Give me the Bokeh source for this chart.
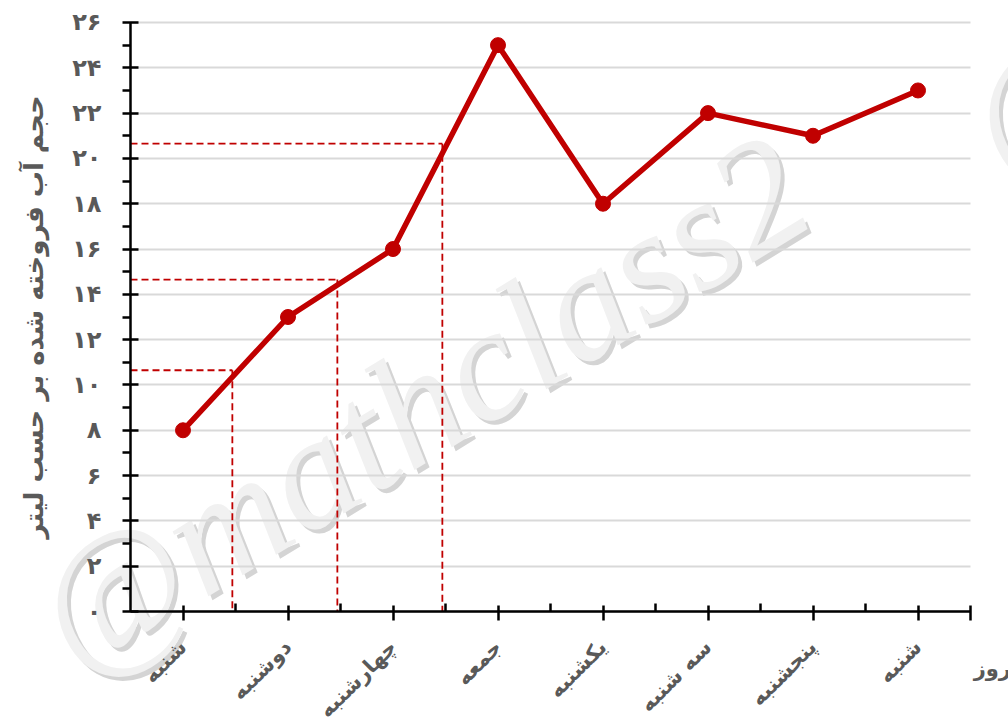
import math
from bokeh.plotting import figure
from bokeh.models import FixedTicker, Label, Range1d, Grid
from bokeh.embed import file_html
from bokeh.resources import INLINE

# ---- data ----
days = ["شنبه", "دوشنبه", "چهارشنبه", "جمعه", "یکشنبه", "سه شنبه", "پنجشنبه", "شنبه"]
water = [8, 13, 16, 25, 18, 22, 21, 23]
y_ticks = [0, 2, 4, 6, 8, 10, 12, 14, 16, 18, 20, 22, 24, 26]
y_tick_labels = ["۰", "۲", "۴", "۶", "۸", "۱۰", "۱۲", "۱۴", "۱۶", "۱۸", "۲۰", "۲۲", "۲۴", "۲۶"]
# interpolation guides (between consecutive days)
guide_x = [0.97, 1.97, 2.97]
guide_y = [10.65, 14.65, 20.65]

y_title = "حجم آب فروخته شده بر حسب لیتر"
x_title = "روز"
watermark = "@mathclass2"

RED = "#c00000"
GRAY = "#595959"
FONT = "DejaVu Sans"

xs = [i + 0.5 for i in range(len(days))]
n_days = len(days)

# frame covers the whole canvas; axes are pinned at the data origin
p = figure(width=1008, height=718,
           x_range=Range1d(-1.2381, 8.3619), y_range=Range1d(-4.723, 26.971),
           output_backend="svg", toolbar_location=None,
           min_border_left=0, min_border_right=0, min_border_top=0, min_border_bottom=0)
p.outline_line_color = None
p.background_fill_color = "white"

# watermark (behind everything)
wm_style = dict(angle=math.radians(31.5), text_font="Liberation Serif", text_font_style="italic",
                text_font_size="161px", level="image")
p.add_layout(Label(x=-0.295, y=-4.37, text=watermark, text_color="#d4d4d4", **wm_style))
p.add_layout(Label(x=-0.333, y=-4.193, text=watermark, text_color="#f1f1f1", **wm_style))
p.add_layout(Label(x=8.581, y=17.21, text="@", text_color="#d4d4d4", **wm_style))
p.add_layout(Label(x=8.543, y=17.39, text="@", text_color="#f1f1f1", **wm_style))

# grid
yt = FixedTicker(ticks=y_ticks, minor_ticks=list(range(1, 26, 2)))
p.yaxis.ticker = yt
p.xgrid.visible = False
if "cross_bounds" in Grid.properties():
    p.ygrid.ticker = yt
    p.ygrid.cross_bounds = (0, n_days)
    p.ygrid.grid_line_color = "#d9d9d9"
    p.ygrid.grid_line_width = 2
else:
    p.ygrid.visible = False
    p.segment(x0=[0] * len(y_ticks), x1=[n_days] * len(y_ticks), y0=y_ticks, y1=y_ticks,
              line_color="#d9d9d9", line_width=2, level="underlay")

# y axis
ya = p.yaxis[0]
ya.fixed_location = 0
ya.bounds = (0, 26)
ya.major_label_overrides = {t: l for t, l in zip(y_ticks, y_tick_labels)}
ya.axis_line_color = "black"
ya.axis_line_width = 2.5
ya.major_tick_line_width = 2.5
ya.minor_tick_line_width = 2.5
ya.major_tick_line_color = "black"
ya.minor_tick_line_color = "black"
ya.major_tick_in = 8
ya.major_tick_out = 8
ya.minor_tick_in = 0
ya.minor_tick_out = 8
ya.major_label_standoff = 21
ya.major_label_text_font = FONT
ya.major_label_text_font_style = "bold"
ya.major_label_text_font_size = "24px"
ya.major_label_text_color = GRAY
ya.axis_label = y_title
ya.axis_label_text_font = FONT
ya.axis_label_text_font_style = "bold"
ya.axis_label_text_font_size = "26px"
ya.axis_label_text_color = GRAY
ya.axis_label_standoff = 20

# x axis
xa = p.xaxis[0]
xa.fixed_location = 0
xa.bounds = (0, n_days)
xa.ticker = FixedTicker(ticks=xs + [n_days], minor_ticks=list(range(1, n_days)))
overrides = {x: d for x, d in zip(xs, days)}
overrides[n_days] = ""
xa.major_label_overrides = overrides
xa.major_label_orientation = math.pi / 4
xa.axis_line_color = "black"
xa.axis_line_width = 2.5
xa.major_tick_line_width = 2.5
xa.minor_tick_line_width = 2.5
xa.major_tick_line_color = "black"
xa.minor_tick_line_color = "black"
xa.major_tick_in = 6
xa.major_tick_out = 9
xa.minor_tick_in = 8
xa.minor_tick_out = 0
xa.major_label_standoff = 23
xa.major_label_text_font = FONT
xa.major_label_text_font_style = "bold"
xa.major_label_text_font_size = "21px"
xa.major_label_text_color = GRAY

# guide lines
for gx, gy in zip(guide_x, guide_y):
    p.line([0, gx], [gy, gy], line_color=RED, line_width=1.8, line_dash="7 4")
    p.line([gx, gx], [gy, 0], line_color=RED, line_width=1.8, line_dash="7 4")

# data
p.line(xs, water, line_color=RED, line_width=5.5)
p.scatter(xs, water, size=15, fill_color=RED, line_color=RED)

# x title
p.add_layout(Label(x=8.03, y=-2.52, text=x_title, text_align="left", text_baseline="middle",
                   text_font=FONT, text_font_style="bold", text_font_size="21px",
                   text_color=GRAY))

open("out.html", "w").write(file_html(p, INLINE))
